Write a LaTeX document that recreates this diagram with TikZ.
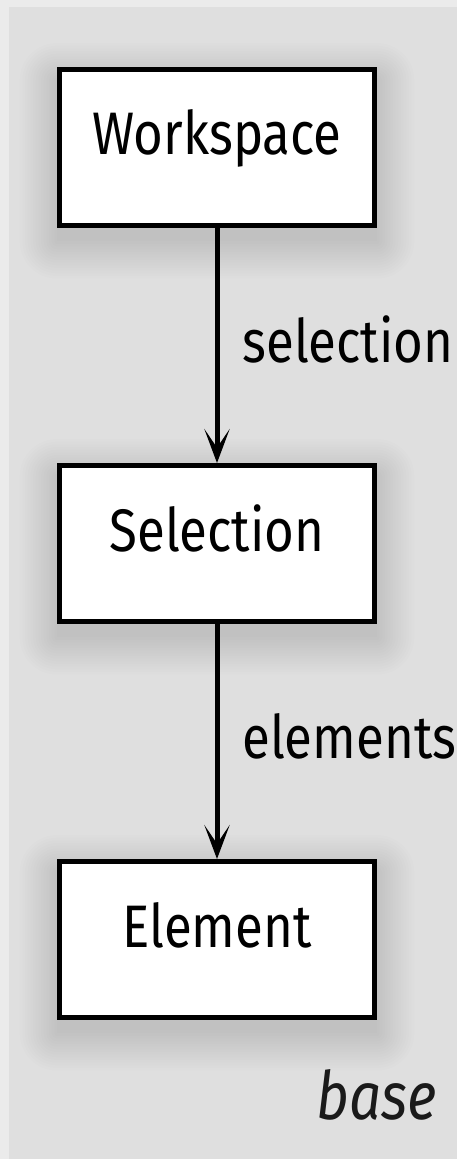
\documentclass[tikz,border=0pt]{standalone}
\usepackage{fontspec}
\setmainfont{Fira Sans}[FakeStretch=0.85]
\usetikzlibrary{arrows.meta,positioning,backgrounds}
\definecolor{pagegray}{HTML}{EBEBEB}
\definecolor{panelgray}{HTML}{DFDFDF}
\definecolor{basegray}{HTML}{1A1A1A}

\begin{document}
\begin{tikzpicture}[
  box/.style={rectangle, draw=black, fill=white, line width=3.75pt,
              minimum width=236.25pt, minimum height=117pt,
              text height=31.5pt, text depth=20.25pt,
              font=\fontsize{45}{52}\selectfont},
  arr/.style={-{Stealth[length=25.5pt, width=19pt, inset=14pt]}, line width=3.75pt},
  lbl/.style={font=\fontsize{45}{52}\selectfont, midway, anchor=base west,
              inner sep=0pt, xshift=17.25pt, yshift=-12.4pt},
  halo/.style={fill=black, opacity=0.006}
]

%% ── Nodes ──────────────────────────────────────────────
\node[box] (workspace) at (162.75pt,-110.625pt) {Workspace};
\node[box, below=176.25pt of workspace] (selection) {Selection};
\node[box, below=176.25pt of selection] (element) {Element};
\node[font=\fontsize{50}{58}\selectfont\itshape, text=basegray,
      anchor=base east, inner sep=0pt] (base) at (327.75pt,-839.25pt) {base};

%% ── Arrows ─────────────────────────────────────────────
\draw[arr] (workspace) -- node[lbl]{selection} (selection);
\draw[arr] (selection) -- node[lbl]{elements} (element);

%% ── Panel and soft shadows ─────────────────────────────
\begin{pgfonlayer}{background}
  \fill[pagegray] (0,0) rectangle (342.75pt,-869.25pt);
  \fill[panelgray] (6.75pt,-5.25pt) rectangle (342.75pt,-869.25pt);
  \foreach \n in {workspace,selection,element}
    \foreach \r in {0,2,...,28}
      \fill[halo, rounded corners=\r pt]
        ([xshift=-\r pt, yshift=-\r pt-10pt]\n.south west) rectangle
        ([xshift=\r pt, yshift=\r pt-10pt]\n.north east);
\end{pgfonlayer}
\useasboundingbox (0,0) rectangle (342.75pt,-869.25pt);
\end{tikzpicture}
\end{document}
